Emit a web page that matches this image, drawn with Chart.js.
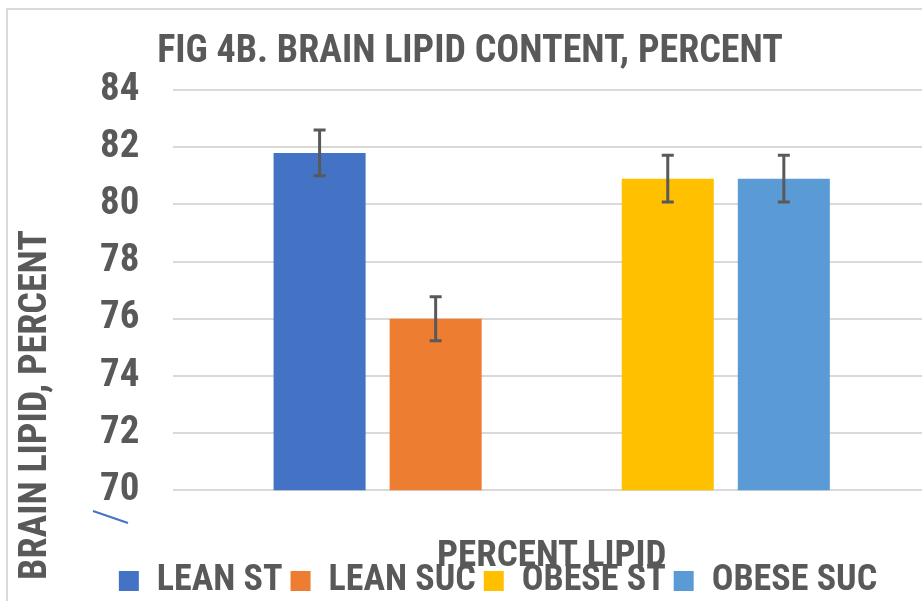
<!DOCTYPE html>
<html>
<head>
<meta charset="utf-8">
<script src="https://cdn.jsdelivr.net/npm/chart.js@4.4.1/dist/chart.umd.min.js"></script>
<style>
    html, body {margin: 0; padding: 0; background: #fff; overflow: hidden;}
    .wrap {position: relative; width: 922px; height: 601px; overflow: hidden;}
    .frame {position: absolute; left: 6px; top: 8px; width: 940px; height: 620px; border: 2px solid #d9d9d9; box-sizing: border-box;}
    .chart_box {position: absolute; left: 0; top: 0; width: 932px; height: 601px;}
</style>
</head>
<body>
<div class="wrap">
    <div class="frame"></div>
    <div class="chart_box"><canvas id="chart_lipid" width="932" height="601"></canvas></div>
</div>
<script>
//data
const chartTitle = 'FIG 4B. BRAIN LIPID CONTENT, PERCENT';
const yAxisTitle = 'BRAIN LIPID, PERCENT';
const xAxisTitle = 'PERCENT LIPID';
const seriesNames = ['LEAN ST', 'LEAN SUC', '', 'OBESE ST', 'OBESE SUC'];
const seriesValues = [81.8, 76.0, null, 80.9, 80.9];
const seriesErrors = [0.8, 0.77, null, 0.82, 0.82];
const seriesColors = ['#4472C4', '#ED7D31', 'transparent', '#FFC000', '#5B9BD5'];
const yTicks = [70, 72, 74, 76, 78, 80, 82, 84];

const FONT = "'Liberation Sans Narrow', 'Roboto Condensed', 'DejaVu Sans Condensed', sans-serif";
const TEXT = '#595959';

//error bar
const errorBars = {
    id: 'errorBars',
    afterDatasetsDraw(chart) {
        const {ctx, scales: {y}} = chart;
        chart.data.datasets.forEach((ds, i) => {
            const err = seriesErrors[i];
            const v = ds.data[0];
            if (v == null || err == null) return;
            const el = chart.getDatasetMeta(i).data[0];
            const top = y.getPixelForValue(v + err);
            const bot = y.getPixelForValue(v - err);
            ctx.save();
            ctx.strokeStyle = TEXT;
            ctx.lineWidth = 3;
            ctx.beginPath();
            ctx.moveTo(el.x, top); ctx.lineTo(el.x, bot);
            ctx.moveTo(el.x - 6, top); ctx.lineTo(el.x + 6, top);
            ctx.moveTo(el.x - 6, bot); ctx.lineTo(el.x + 6, bot);
            ctx.stroke();
            ctx.restore();
        });
    }
};

//titles - placed like the original (not centred on the plot)
const titles = {
    id: 'titles',
    afterDraw(chart) {
        const {ctx} = chart;
        ctx.save();
        ctx.fillStyle = TEXT;
        ctx.textAlign = 'center';
        ctx.textBaseline = 'middle';
        ctx.font = 'bold 38px ' + FONT;
        ctx.fillText(chartTitle, 470, 52);
        ctx.translate(36, 405);
        ctx.rotate(-Math.PI / 2);
        ctx.fillText(yAxisTitle, 0, 0);
        ctx.restore();
        //stray stroke in the source image
        ctx.save();
        ctx.strokeStyle = '#4472C4';
        ctx.lineWidth = 2;
        ctx.beginPath();
        ctx.moveTo(93, 511);
        ctx.lineTo(128, 523);
        ctx.stroke();
        ctx.restore();
    }
};

new Chart(document.getElementById('chart_lipid'), {
    type: 'bar',
    data: {
        labels: [''],
        datasets: seriesNames.map((name, i) => ({
            label: name,
            data: [seriesValues[i]],
            backgroundColor: seriesColors[i],
            borderWidth: 0,
            categoryPercentage: 0.767,
            barPercentage: 0.793
        }))
    },
    options: {
        responsive: false,
        animation: false,
        layout: {padding: {left: 66, right: 2, top: 90, bottom: -8}},
        plugins: {
            title: {display: false},
            legend: {
                position: 'bottom',
                labels: {
                    filter: item => item.text !== '',
                    color: TEXT,
                    boxWidth: 20,
                    boxHeight: 20,
                    padding: 8,
                    font: {family: FONT, size: 36, weight: 'bold'}
                }
            },
            tooltip: {enabled: false}
        },
        scales: {
            x: {
                grid: {display: false},
                border: {display: false},
                ticks: {display: false},
                title: {
                    display: true,
                    text: xAxisTitle,
                    color: TEXT,
                    font: {family: FONT, size: 37, weight: 'bold', lineHeight: 0.02},
                    padding: {top: 58, bottom: -2}
                }
            },
            y: {
                min: yTicks[0],
                max: yTicks[yTicks.length - 1],
                afterBuildTicks: axis => {axis.ticks = yTicks.map(v => ({value: v}));},
                grid: {color: '#d9d9d9', lineWidth: 2, drawTicks: false},
                border: {display: false},
                ticks: {
                    color: TEXT,
                    padding: 34,
                    font: {family: FONT, size: 39, weight: 'bold'}
                }
            }
        }
    },
    plugins: [errorBars, titles]
});
</script>
</body>
</html>
